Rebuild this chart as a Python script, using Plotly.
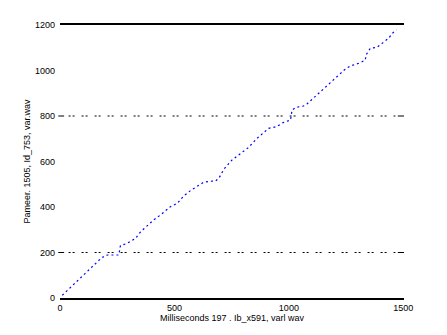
import plotly.graph_objects as go

# data
time_ms = [10, 60, 120, 184, 195, 206, 257, 264, 293, 330, 352, 373, 409, 439, 482,
           512, 540, 570, 606, 628, 665, 679, 694, 716, 752, 788, 824, 861, 912,
           946, 975, 1007, 1014, 1031, 1064, 1079, 1116, 1145, 1167, 1196, 1218,
           1242, 1268, 1312, 1334, 1337, 1356, 1385, 1411, 1436, 1455, 1470]
param_vals = [12, 60, 117, 179, 181, 189, 189, 230, 240, 262, 291, 311, 343, 365, 401,
              416, 448, 472, 497, 509, 514, 514, 526, 566, 607, 636, 662, 702, 746,
              753, 771, 782, 826, 838, 844, 853, 888, 914, 936, 961, 980,
              1002, 1020, 1034, 1046, 1068, 1098, 1102, 1124, 1142, 1166, 1178]
x_ticks = [0, 500, 1000, 1500]
y_ticks = [0, 200, 400, 600, 800, 1000, 1200]
grid_levels = [200, 800]

x_title = "Milliseconds 197 . Ib_x591, varl wav"
y_title = "Pameer. 1505, Id_753, var.wav"

font = dict(family="Liberation Sans, Arial, sans-serif", size=9, color="black")

fig = go.Figure()
fig.add_trace(go.Scatter(
    x=time_ms, y=param_vals, mode="lines",
    line=dict(color="rgb(0,0,255)", width=1.2, dash="2px,3px"),
    hoverinfo="skip", showlegend=False,
))

shapes = []
for lvl in grid_levels:
    shapes.append(dict(type="line", xref="paper", yref="y", x0=0.025, x1=0.975,
                       y0=lvl, y1=lvl, line=dict(color="black", width=1, dash="2px,2px,2px,7px")))
    shapes.append(dict(type="line", xref="paper", yref="y", x0=-0.005, x1=0.012,
                       y0=lvl, y1=lvl, line=dict(color="black", width=1)))
    shapes.append(dict(type="line", xref="paper", yref="y", x0=0.982, x1=1.0,
                       y0=lvl, y1=lvl, line=dict(color="black", width=1)))

fig.update_layout(
    width=447, height=335,
    margin=dict(l=60, r=43, t=25, b=37),
    paper_bgcolor="white", plot_bgcolor="white",
    font=font,
    shapes=shapes,
    xaxis=dict(range=[0, 1503], tickvals=x_ticks, ticks="", showgrid=False,
               zeroline=False, showline=True, mirror=True, linecolor="black", linewidth=1.5,
               ticklabelstandoff=0,
               title=dict(text=x_title, font=font, standoff=2)),
    yaxis=dict(range=[0, 1200], tickvals=y_ticks, ticks="", showgrid=False,
               zeroline=False, showline=False, ticklabelstandoff=4,
               title=dict(text=y_title, font=font, standoff=2)),
)

fig.write_html("out.html")
